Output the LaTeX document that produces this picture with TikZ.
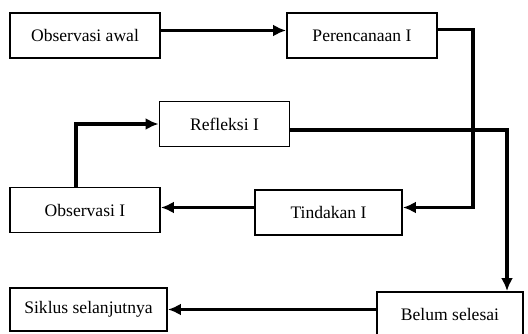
\documentclass[tikz,border=0pt]{standalone}
\usepackage{fontspec}
\setmainfont{Liberation Serif}
\usetikzlibrary{calc}
\usetikzlibrary{arrows.meta}

\tikzset{
  stage/.style={draw, line width=1.1pt, minimum width=3cm, minimum height=0.9cm, inner sep=0pt, font=\fontsize{10}{12}\selectfont},
  flow/.style={line width=1.8pt, -{Latex[length=2.6mm,width=2.4mm]}}
}

\begin{document}
\begin{tikzpicture}[x=0.02cm, y=-0.02cm]
    \useasboundingbox (0,0) rectangle (528,334);

    % the stages of the cycle
    \node[stage] (obsawal) at ( 85, 35.5) {Observasi awal};
    \node[stage] (renc)    at (362, 35.5) {Perencanaan I};
    \node[stage, minimum width=2.6cm] (refl) at (224.5, 124) {Refleksi I};
    \node[stage] (obs1)    at ( 85, 210) {Observasi I};
    \node[stage, minimum width=2.94cm] (tind) at (328.5, 212.5) {Tindakan I};
    \node[stage, minimum width=2.92cm, minimum height=1.02cm] (belum) at (450, 317.5) {\raisebox{3pt}{Belum selesai}};
    \node[stage, minimum width=3.14cm, minimum height=0.86cm] (siklus) at (88.5, 309.5) {Siklus selanjutnya};

    % connectors between stages
    \draw[flow] ($(obsawal.east)+(0,-5)$) -- ($(renc.west)+(0,-5)$);
    \draw[flow] ($(renc.east)+(0,-6)$) -- ++(35,0) |- ($(tind.east)+(0,-5)$);
    \draw[flow] ($(tind.west)+(0,-5)$) coordinate (tw) -- (tw -| obs1.east);
    \draw[flow] ($(obs1.north)+(-9,0)$) |- (refl.west);
    \draw[flow] ($(refl.east)+(0,6)$) -| ($(belum.north)+(57,0)$);
    \draw[flow] (belum.west |- siklus.east) -- (siklus.east);
\end{tikzpicture}
\end{document}
